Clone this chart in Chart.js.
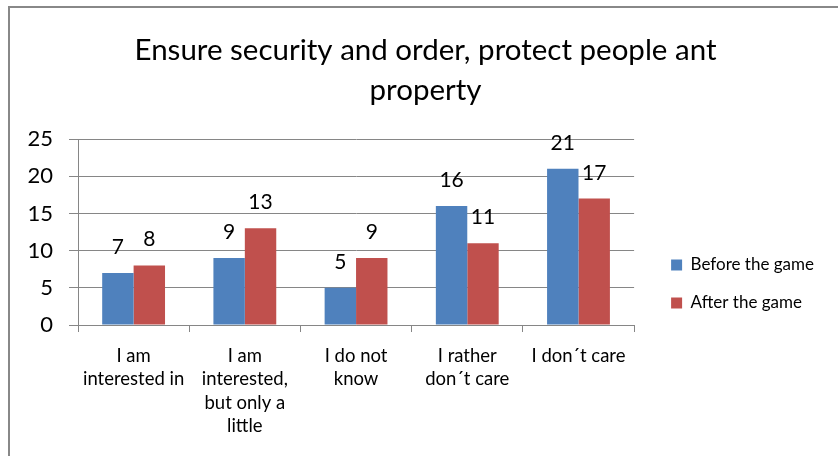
<!DOCTYPE html>
<html>
<head>
<meta charset="utf-8">
<script src="https://cdn.jsdelivr.net/npm/chart.js@4.4.1/dist/chart.umd.min.js"></script>
<style>
    html, body { margin: 0; padding: 0; background: #fff; overflow: hidden; width: 838px; height: 456px; }
    #frame {
        position: absolute; left: 8px; top: 6px;
        width: 832px; height: 460px;
        border-top: 2px solid #888; border-left: 2px solid #888;
    }
    #chart { display: block; }
</style>
</head>
<body>
<div id="frame"><canvas id="chart" width="832" height="448"></canvas></div>
<script>
const categories = [
    ['I am', 'interested in'],
    ['I am', 'interested,', 'but only a', 'little'],
    ['I do not', 'know'],
    ['I rather', 'don\u00b4t care'],
    ['I don\u00b4t care']
];
const beforeGame = [7, 9, 5, 16, 21];
const afterGame = [8, 13, 9, 11, 17];
const yTicks = [0, 5, 10, 15, 20, 25];

const FONT = 'Lato, "Open Sans", sans-serif';

// draws the number above each bar
const barValues = {
    id: 'barValues',
    afterDatasetsDraw(chart) {
        const ctx = chart.ctx;
        ctx.save();
        ctx.font = `21px ${FONT}`;
        ctx.fillStyle = '#000';
        ctx.textAlign = 'center';
        ctx.textBaseline = 'alphabetic';
        chart.data.datasets.forEach((ds, i) => {
            chart.getDatasetMeta(i).data.forEach((bar, j) => {
                ctx.fillText(ds.data[j], bar.x, bar.y - 19);
            });
        });
        ctx.restore();
    }
};

new Chart(document.getElementById('chart'), {
    type: 'bar',
    data: {
        labels: categories,
        datasets: [
            { label: 'Before the game', data: beforeGame, backgroundColor: '#4F81BD', categoryPercentage: 0.565, barPercentage: 1 },
            { label: 'After the game', data: afterGame, backgroundColor: '#C0504D', categoryPercentage: 0.565, barPercentage: 1 }
        ]
    },
    options: {
        responsive: false,
        devicePixelRatio: 1,
        animation: false,
        layout: { padding: { left: 17, right: 18, bottom: 6, top: 0 } },
        plugins: {
            title: {
                display: true,
                text: ['Ensure security and order, protect people ant', 'property'],
                color: '#000',
                font: { family: FONT, size: 29.5, weight: 'normal', lineHeight: 1.356 },
                padding: { top: 22, bottom: 29 }
            },
            legend: {
                position: 'right',
                align: 'start',
                maxWidth: 220,
                // blank title, only there to push the entries down
                title: { display: true, text: ' ', font: { size: 12, lineHeight: 1 }, padding: { top: 215.5, bottom: 0 } },
                labels: {
                    color: '#000',
                    font: { family: FONT, size: 17 },
                    boxWidth: 11,
                    boxHeight: 11,
                    padding: 21
                }
            },
            tooltip: { enabled: false }
        },
        scales: {
            x: {
                grid: { display: true, drawOnChartArea: false, color: '#868686', tickLength: 7 },
                border: { color: '#868686' },
                ticks: { color: '#000', font: { family: FONT, size: 18.5, lineHeight: 1.27 }, padding: 12, maxRotation: 0, autoSkip: false }
            },
            y: {
                min: yTicks[0],
                max: yTicks[yTicks.length - 1],
                afterBuildTicks: axis => { axis.ticks = yTicks.map(v => ({ value: v })); },
                afterFit: axis => { axis.width = 51; },
                grid: { color: '#868686', tickLength: 9 },
                border: { color: '#868686' },
                ticks: { color: '#000', font: { family: FONT, size: 22 }, padding: 16 }
            },
            gap: {
                type: 'linear',
                position: 'right',
                grid: { display: false },
                border: { display: false },
                ticks: { display: false },
                afterFit: axis => { axis.width = 16; }
            }
        }
    },
    plugins: [barValues]
});
</script>
</body>
</html>
